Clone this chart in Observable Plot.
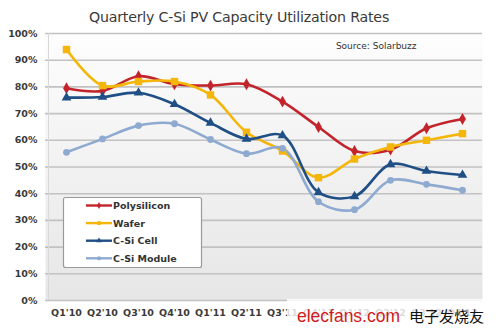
<!DOCTYPE html>
<html><head><meta charset="utf-8">
<script src="https://cdn.jsdelivr.net/npm/d3@7"></script>
<script src="https://cdn.jsdelivr.net/npm/@observablehq/plot@0.6"></script>
<style>
body{margin:0;background:#fff;}
#wrap{position:relative;width:500px;height:333px;overflow:hidden;}
#title{position:absolute;left:0;top:9px;width:478px;text-align:center;font:14.2px "DejaVu Sans";color:#3a3a3a;letter-spacing:-0.2px;}
</style></head><body>
<div id="wrap"><div id="chart"></div><div id="title">Quarterly C-Si PV Capacity Utilization Rates</div></div>
<script>
const quarters = ["Q1'10","Q2'10","Q3'10","Q4'10","Q1'11","Q2'11","Q3'11","Q4'11","Q1'12","Q2'12","Q3'12","Q4'12"];
const seriesNames = ["Polysilicon","Wafer","C-Si Cell","C-Si Module"];
const polysilicon = [79.5, 78.5, 84, 81, 80.5, 81, 74.5, 65, 56, 56.5, 64.5, 68];
const wafer       = [94, 80.5, 82, 82, 77, 63, 56, 46, 53, 57.5, 60, 62.5];
const cell        = [76, 76.2, 77.8, 73.5, 66.5, 60.5, 61.8, 40.5, 39, 51, 48.5, 47];
const moduleVals  = [55.5, 60.5, 65.5, 66.2, 60.3, 55, 57, 37, 34, 45, 43.5, 41.3];
const yTicks = [0,10,20,30,40,50,60,70,80,90,100];

const colors = ["#c3242c","#f5b60a","#1f4f85","#8eaad0"];
const symbols = ["diamond","square","triangle","circle"];
const radii = [3.6,4.2,3.6,3.4];
const valueLists = [polysilicon, wafer, cell, moduleVals];

const data = [];
valueLists.forEach((vals, si) => vals.forEach((v, i) => data.push({series: seriesNames[si], q: quarters[i], v})));

const marks = [
  Plot.frame({fill: "url(#bg)", stroke: null}),
  Plot.ruleY(yTicks, {stroke: "#c2c2c2", strokeWidth: 1.6}),
  Plot.ruleX([0], {x: () => quarters[0], dx: -18, stroke: "#d8d8d8", strokeWidth: 1})
];
seriesNames.forEach((s, si) => {
  const d = data.filter(e => e.series === s);
  marks.push(Plot.line(d, {x: "q", y: "v", stroke: colors[si], strokeWidth: 2.6, curve: "catmull-rom"}));
});
seriesNames.forEach((s, si) => {
  const d = data.filter(e => e.series === s);
  marks.push(Plot.dot(d, {x: "q", y: "v", fill: colors[si], symbol: () => symbols[si], r: radii[si], stroke: null}));
});
marks.push(Plot.text(["Source: Solarbuzz"], {frameAnchor: "top-right", dx: -66, dy: 9, fontSize: 9, fill: "#333", fontFamily: "DejaVu Sans", textAnchor: "end"}));

const chart = Plot.plot({
  width: 500, height: 333,
  marginTop: 33, marginBottom: 33, marginLeft: 45, marginRight: 18,
  style: {fontFamily: "DejaVu Sans", background: "transparent"},
  x: {type: "point", domain: quarters, padding: 0.5, label: null, tickSize: 0, tickPadding: 9},
  y: {domain: [0, 100], ticks: yTicks, tickFormat: d => d + "%", label: null, tickSize: 0, tickPadding: 8},
  symbol: {type: "identity"},
  marks
});
document.getElementById("chart").appendChild(chart);

const svg = d3.select(chart);
svg.selectAll("[aria-label='x-axis tick label'] text, [aria-label='y-axis tick label'] text")
  .style("font-size", "9.5px").style("font-weight", "bold").attr("fill", "#3a3a3a");
const defs = svg.insert("defs", ":first-child");
const g = defs.append("linearGradient").attr("id", "bg").attr("x1", 0).attr("y1", 0).attr("x2", 0).attr("y2", 1);
g.append("stop").attr("offset", "0%").attr("stop-color", "#fdfdfd");
g.append("stop").attr("offset", "100%").attr("stop-color", "#e6e6e6");

// legend
const lg = svg.append("g").attr("text-anchor", "start");
lg.append("rect").attr("x", 63.5).attr("y", 197.5).attr("width", 138).attr("height", 70).attr("rx", 2)
  .attr("fill", "#fff").attr("stroke", "#9a9a9a").attr("stroke-width", 1.2);
seriesNames.forEach((s, si) => {
  const yy = 205.5 + si * 17.6;
  lg.append("line").attr("x1", 86).attr("x2", 112).attr("y1", yy).attr("y2", yy)
    .attr("stroke", colors[si]).attr("stroke-width", 2.4);
  lg.append("path").attr("transform", `translate(99,${yy})`)
    .attr("d", d3.symbol(si===0?d3.symbolDiamond:si===1?d3.symbolSquare:si===2?d3.symbolTriangle:d3.symbolCircle, 14)())
    .attr("fill", colors[si]);
  lg.append("text").attr("x", 113).attr("y", yy + 3.5).attr("text-anchor", "start").text(s)
    .attr("font-family", "DejaVu Sans").attr("font-size", "9.5px").attr("font-weight", "bold").attr("fill", "#333");
});

// watermark
const wm = svg.append("g").attr("text-anchor", "start");
wm.append("rect").attr("x", 287).attr("y", 299).attr("width", 196).attr("height", 34).attr("fill", "#fff").attr("opacity", 0.82);
wm.append("text").attr("x", 297).attr("y", 322).text("elecfans.com")
  .attr("font-family", "Liberation Sans Narrow, Liberation Sans").attr("font-size", "19px").attr("fill", "#d01a20")
  .attr("textLength", 103).attr("lengthAdjust", "spacingAndGlyphs");
wm.append("text").attr("x", 409).attr("y", 322).text("电子发烧友")
  .attr("font-family", "Noto Sans CJK SC").attr("font-size", "15px").attr("fill", "#111");
</script>
</body></html>
